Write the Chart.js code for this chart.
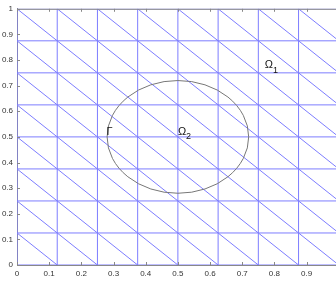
<!DOCTYPE html>
<html>
<head>
<meta charset="utf-8">
<script src="https://cdn.jsdelivr.net/npm/chart.js@4"></script>
<style>
  html, body { margin: 0; padding: 0; background: #fff; overflow: hidden; }
  #wrap { width: 345px; height: 284px; }
</style>
</head>
<body>
<div id="wrap"><canvas id="meshChart"></canvas></div>
<script>
// Mesh node coordinates (same in x and y)
const meshTicks = [0, 0.125, 0.25, 0.375, 0.5, 0.625, 0.75, 0.875, 1];
// Diagonals run along x + y = c
const diagonalSums = [0.125, 0.25, 0.375, 0.5, 0.625, 0.75, 0.875, 1,
                      1.125, 1.25, 1.375, 1.5, 1.625, 1.75, 1.875];
// Axis ticks
const xTickValues = [0, 0.1, 0.2, 0.3, 0.4, 0.5, 0.6, 0.7, 0.8, 0.9, 1];
const xTickLabels = ['0', '0.1', '0.2', '0.3', '0.4', '0.5', '0.6', '0.7', '0.8', '0.9', '1'];
const yTickValues = [0, 0.1, 0.2, 0.3, 0.4, 0.5, 0.6, 0.7, 0.8, 0.9, 1];
const yTickLabels = ['0', '0.1', '0.2', '0.3', '0.4', '0.5', '0.6', '0.7', '0.8', '0.9', '1'];
// Interface circle Gamma
const circleCenter = [0.5, 0.5];
const circleRadius = 0.22;
// Region labels
const labelNames = ['\u03A9', '\u03A9', '\u0393'];
const labelSubs = ['1', '2', ''];
const labelX = [0.77, 0.5, 0.278];
const labelY = [0.78, 0.52, 0.52];

const meshColor = 'rgb(125,125,255)';

// build one line dataset per mesh segment
const datasets = [];
function addSegment(x0, y0, x1, y1) {
  datasets.push({
    data: [{ x: x0, y: y0 }, { x: x1, y: y1 }],
    showLine: true,
    borderColor: meshColor,
    borderWidth: 1,
    pointRadius: 0
  });
}
meshTicks.forEach(v => {
  addSegment(v, 0, v, 1);   // vertical
  addSegment(0, v, 1, v);   // horizontal
});
diagonalSums.forEach(c => {
  if (c <= 1) addSegment(0, c, c, 0);
  else addSegment(c - 1, 1, 1, c - 1);
});

// circle, labels, box line and inward ticks
const extras = {
  id: 'extras',
  afterDatasetsDraw(chart) {
    const { ctx, chartArea, scales: { x, y } } = chart;
    ctx.save();

    // circle
    const cx = x.getPixelForValue(circleCenter[0]);
    const cy = y.getPixelForValue(circleCenter[1]);
    const rx = x.getPixelForValue(circleCenter[0] + circleRadius) - cx;
    const ry = cy - y.getPixelForValue(circleCenter[1] + circleRadius);
    ctx.strokeStyle = '#777';
    ctx.lineWidth = 1;
    ctx.beginPath();
    ctx.ellipse(cx, cy, rx, ry, 0, 0, Math.PI * 2);
    ctx.stroke();

    // labels
    ctx.fillStyle = '#111';
    ctx.textBaseline = 'middle';
    ctx.textAlign = 'left';
    labelNames.forEach((name, i) => {
      const px = x.getPixelForValue(labelX[i]);
      const py = y.getPixelForValue(labelY[i]);
      ctx.font = "11px 'Liberation Sans'";
      ctx.fillText(name, px, py);
      const w = ctx.measureText(name).width;
      if (labelSubs[i]) {
        ctx.font = "9px 'Liberation Sans'";
        ctx.fillText(labelSubs[i], px + w, py + 5);
      }
    });

    // top box line
    ctx.strokeStyle = '#888';
    ctx.beginPath();
    ctx.moveTo(chartArea.left, chartArea.top + 0.5);
    ctx.lineTo(chartArea.right, chartArea.top + 0.5);
    ctx.stroke();

    // inward tick marks
    ctx.beginPath();
    xTickValues.forEach(v => {
      const px = Math.round(x.getPixelForValue(v)) + 0.5;
      ctx.moveTo(px, chartArea.bottom);
      ctx.lineTo(px, chartArea.bottom - 3);
      ctx.moveTo(px, chartArea.top);
      ctx.lineTo(px, chartArea.top + 3);
    });
    yTickValues.forEach(v => {
      const py = Math.round(y.getPixelForValue(v)) + 0.5;
      ctx.moveTo(chartArea.left, py);
      ctx.lineTo(chartArea.left + 3, py);
    });
    ctx.stroke();
    ctx.restore();
  }
};

new Chart(document.getElementById('meshChart'), {
  type: 'scatter',
  data: { datasets },
  options: {
    responsive: true,
    maintainAspectRatio: false,
    animation: false,
    layout: { padding: { top: 2, right: 5, left: 0, bottom: 0 } },
    plugins: { legend: { display: false }, tooltip: { enabled: false } },
    scales: {
      x: {
        type: 'linear', min: 0, max: 1,
        afterBuildTicks: s => { s.ticks = xTickValues.map(v => ({ value: v })); },
        afterFit: s => { s.height = 19; },
        grid: { display: false, drawTicks: false },
        border: { display: true, color: '#888', width: 1 },
        ticks: {
          padding: 4, maxRotation: 0, autoSkip: false,
          color: '#333', font: { family: 'Liberation Sans', size: 8 },
          callback: (v, i) => xTickLabels[i]
        }
      },
      y: {
        type: 'linear', min: 0, max: 1,
        afterBuildTicks: s => { s.ticks = yTickValues.map(v => ({ value: v })); },
        afterFit: s => { s.width = 17; },
        grid: { display: false, drawTicks: false },
        border: { display: true, color: '#888', width: 1 },
        ticks: {
          padding: 4, autoSkip: false,
          color: '#333', font: { family: 'Liberation Sans', size: 8 },
          callback: (v, i) => yTickLabels[i]
        }
      }
    }
  },
  plugins: [extras]
});
</script>
</body>
</html>
